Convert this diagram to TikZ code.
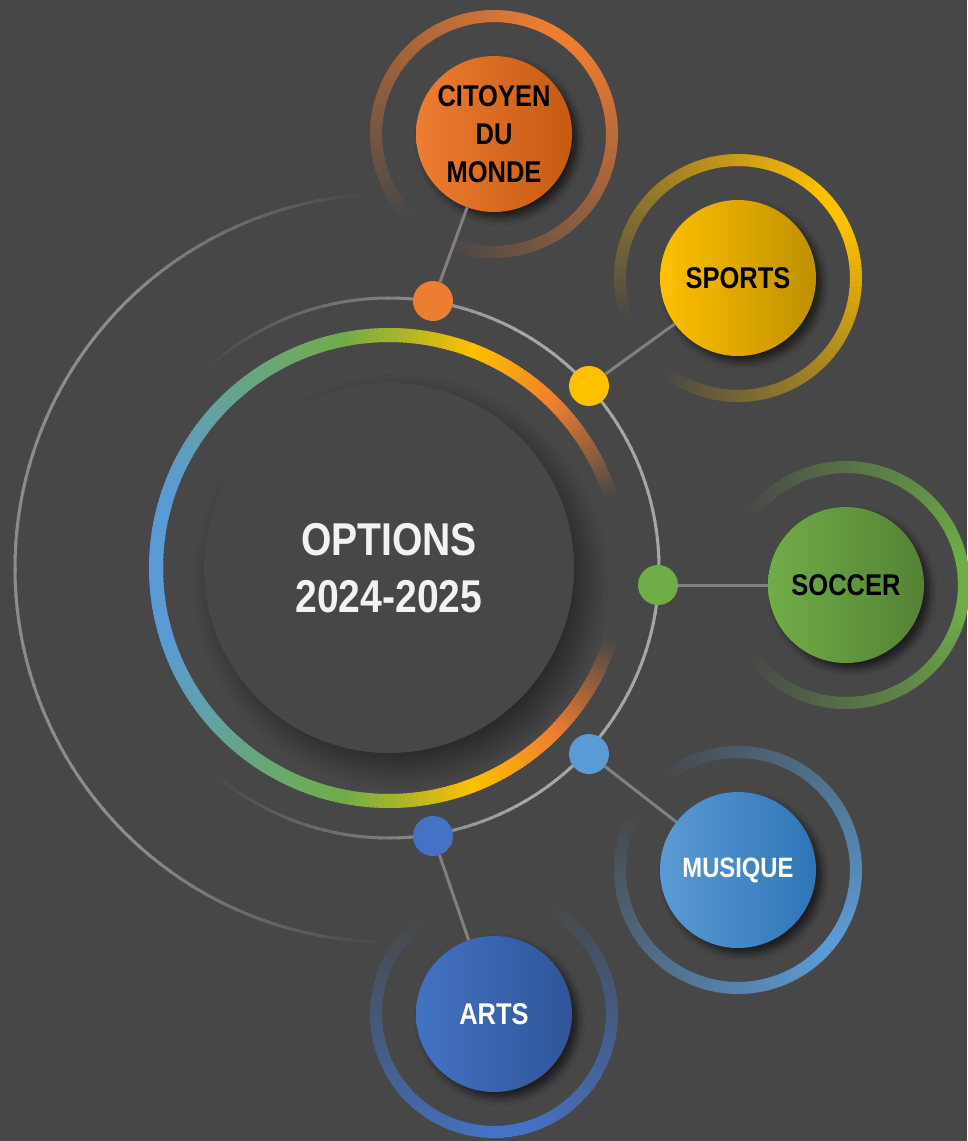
\documentclass[tikz,border=0pt]{standalone}
\usepackage{fontspec}
\setmainfont{Liberation Sans}[FakeStretch=0.85]
\usetikzlibrary{shadows.blur,calc}

\definecolor{bgc}{HTML}{474747}
\definecolor{cOr}{HTML}{ED7D31}
\definecolor{cOrD}{HTML}{C55A11}
\definecolor{cYe}{HTML}{FFC000}
\definecolor{cYeD}{HTML}{BF9000}
\definecolor{cGr}{HTML}{70AD47}
\definecolor{cGrD}{HTML}{548235}
\definecolor{cBl}{HTML}{5B9BD5}
\definecolor{cBlD}{HTML}{2E75B6}
\definecolor{cDb}{HTML}{4472C4}
\definecolor{cDbD}{HTML}{2F5597}
\definecolor{cGrayA}{HTML}{A6A6A6}
\definecolor{cGrayB}{HTML}{8C8C8C}
\definecolor{cConn}{HTML}{808080}
\definecolor{cTxt}{HTML}{F2F2F2}

% colour of the central gradient ring at a given angle
\newcommand\setrc[1]{%
  \ifdim#1pt<44pt
    \pgfmathtruncatemacro\pp{max(0,min(100,(#1-17)/27*100))}%
    \colorlet{rc}{cOr!\pp!bgc}%
  \else\ifdim#1pt<68pt
    \pgfmathtruncatemacro\pp{(#1-44)/24*100}%
    \colorlet{rc}{cYe!\pp!cOr}%
  \else\ifdim#1pt<100pt
    \pgfmathtruncatemacro\pp{(#1-68)/32*100}%
    \colorlet{rc}{cGr!\pp!cYe}%
  \else\ifdim#1pt<160pt
    \pgfmathtruncatemacro\pp{(#1-100)/60*100}%
    \colorlet{rc}{cBl!\pp!cGr}%
  \else
    \colorlet{rc}{cBl}%
  \fi\fi\fi\fi}

% ring around an outer node: centre, radius, width, colour, dark angle, zero-distance, full-distance
\newcommand\gradring[7]{%
  \foreach \a in {0,2,...,358} {%
    \pgfmathsetmacro\dd{abs(mod(\a-#5+540,360)-180)}%
    \pgfmathtruncatemacro\pq{max(0,min(100,(\dd-#6)/(#7-#6)*100))}%
    \draw[line width=#3, color=#4!\pq!bgc]
      ($(#1)+(\a:#2)$) arc[start angle=\a, end angle=\a+2.5, radius=#2];
  }%
}

\begin{document}
\begin{tikzpicture}[x=1pt,y=-1pt,
  conn/.style={draw=cConn, line width=3pt},
  dot/.style={circle, inner sep=0pt, minimum size=40pt},
  opt/.style={circle, inner sep=0pt, minimum size=156pt, align=center,
    font=\bfseries\fontsize{30}{38}\selectfont,
    blur shadow={shadow xshift=6pt, shadow yshift=-6pt, shadow blur radius=7pt, shadow opacity=60}},
]
\fill[bgc] (0,0) rectangle (967,1141);
\useasboundingbox (0,0) rectangle (967,1141);
\coordinate (C) at (389,568);

% big outer arc (left)
\foreach \a in {92,94,...,266} {
  \pgfmathtruncatemacro\pp{max(0,min(100,(88-abs(\a-180))/40*100))}
  \draw[line width=3pt, cGrayB!\pp!bgc] ($(C)+(\a:374pt)$) arc[start angle=\a, end angle=\a+2.5, radius=374pt];
}

% central gradient ring
\foreach \a in {16,17,...,180} {
  \setrc{\a}
  \draw[line width=14pt, rc] ($(C)+(\a:233pt)$) arc[start angle=\a, end angle=\a+1.4, radius=233pt];
  \draw[line width=14pt, rc] ($(C)+(-\a:233pt)$) arc[start angle=-\a, end angle=-\a-1.4, radius=233pt];
}

% central disc
\node[circle, inner sep=0pt, minimum size=370pt, fill=bgc, text=cTxt, align=center,
  font=\bfseries\fontsize{46}{57}\selectfont,
  blur shadow={shadow xshift=12pt, shadow yshift=-14pt, shadow blur radius=22pt,
    shadow blur steps=40, shadow opacity=45}]
  (ctr) at (C) {OPTIONS\\2024-2025};

% grey orbit
\foreach \a in {-132,-130,...,130} {
  \pgfmathtruncatemacro\pp{max(0,min(100,(132-abs(\a))/70*100))}
  \draw[line width=3pt, cGrayA!\pp!bgc] ($(C)+(\a:270pt)$) arc[start angle=\a, end angle=\a+2.5, radius=270pt];
}

% positions
\coordinate (p1) at (494,134);
\coordinate (p2) at (738,278);
\coordinate (p3) at (846,585);
\coordinate (p4) at (738,870);
\coordinate (p5) at (494,1014);

% outer rings
\gradring{p1}{118pt}{12pt}{cOr}{235}{10}{170}
\gradring{p2}{118pt}{12pt}{cYe}{215}{15}{170}
\gradring{p3}{118pt}{12pt}{cGr}{180}{35}{170}
\gradring{p4}{118pt}{12pt}{cBl}{140}{10}{175}
\gradring{p5}{118pt}{12pt}{cDb}{95}{30}{170}

% dots
\node[dot, fill=cOr] (d1) at (433,301) {};
\node[dot, fill=cYe] (d2) at (589,386) {};
\node[dot, fill=cGr] (d3) at (658,585) {};
\node[dot, fill=cBl] (d4) at (589,754) {};
\node[dot, fill=cDb] (d5) at (433,836) {};

% option nodes
\node[opt, left color=cOr, right color=cOrD, text=black] (n1) at (p1) {CITOYEN\\DU\\MONDE};
\node[opt, left color=cYe, right color=cYeD, text=black] (n2) at (p2) {SPORTS};
\node[opt, left color=cGr, right color=cGrD, text=black] (n3) at (p3) {SOCCER};
\node[opt, left color=cBl, right color=cBlD, text=white, font=\bfseries\fontsize{28}{34}\selectfont] (n4) at (p4) {MUSIQUE};
\node[opt, left color=cDb, right color=cDbD, text=white] (n5) at (p5) {ARTS};

% connectors
\draw[conn] (d1) -- (n1);
\draw[conn] (d2) -- (n2);
\draw[conn] (d3) -- (n3);
\draw[conn] (d4) -- (n4);
\draw[conn] (d5) -- (n5);
\end{tikzpicture}
\end{document}
